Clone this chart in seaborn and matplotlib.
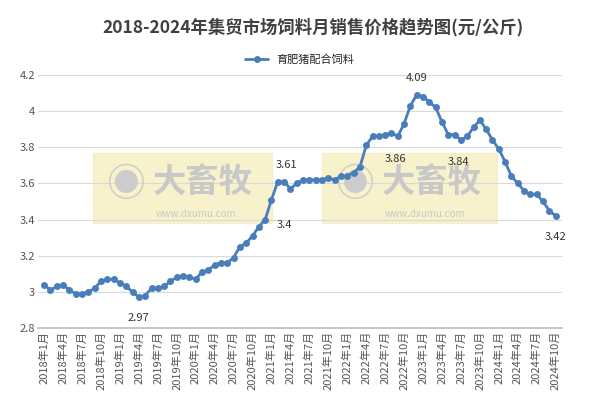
import matplotlib
matplotlib.use("Agg")
import matplotlib.pyplot as plt
import seaborn as sns
import pandas as pd
from matplotlib.patches import Rectangle

sns.set_theme(style="white")
plt.rcParams['font.family'] = ['Noto Sans CJK SC', 'DejaVu Sans']

years = list(range(2018, 2025))
v2018 = [3.04,3.01,3.03,3.04,3.01,2.99,2.99,3.00,3.02,3.06,3.07,3.07]
v2019 = [3.05,3.03,3.00,2.97,2.98,3.02,3.02,3.03,3.06,3.08,3.09,3.08]
v2020 = [3.07,3.11,3.12,3.15,3.16,3.16,3.19,3.25,3.27,3.31,3.36,3.40]
v2021 = [3.51,3.61,3.61,3.57,3.60,3.62,3.62,3.62,3.62,3.63,3.62,3.64]
v2022 = [3.64,3.66,3.69,3.81,3.86,3.86,3.87,3.88,3.86,3.93,4.03,4.09]
v2023 = [4.08,4.05,4.02,3.94,3.87,3.87,3.84,3.86,3.91,3.95,3.90,3.84]
v2024 = [3.79,3.72,3.64,3.60,3.56,3.54,3.54,3.50,3.45,3.42]
values = v2018+v2019+v2020+v2021+v2022+v2023+v2024
labels = [f"{y}年{m}月" for y in years for m in range(1,13)][:len(values)]
annot = {"2019年4月":"2.97","2020年12月":"3.4","2021年2月":"3.61","2022年9月":"3.86",
         "2022年12月":"4.09","2023年7月":"3.84","2024年10月":"3.42"}
annot_off = {"2019年4月":(0,-15),"2020年12月":(14,-4),"2021年2月":(6,12),"2022年9月":(-2,-16),
             "2022年12月":(0,12),"2023年7月":(-2,-16),"2024年10月":(0,-15)}

df = pd.DataFrame({"x": range(len(values)), "v": values, "label": labels})

fig = plt.figure(figsize=(6.01,4.05), dpi=100)
ax = fig.add_axes([0.063, 0.19, 0.872, 0.625])
for xx in [(0.105, 0.447), (0.542, 0.876)]:
    ax.add_patch(Rectangle((xx[0], 0.415), xx[1]-xx[0], 0.275, transform=ax.transAxes,
                           color="#f5efc0", zorder=0, alpha=0.8))
    ax.text(xx[0]+0.025, 0.565, "◉", transform=ax.transAxes, fontsize=28, color="#cccccc", va="center")
    ax.text(xx[0]+0.115, 0.575, "大畜牧", transform=ax.transAxes, fontsize=24, color="#c8c8c8",
            va="center", fontweight="bold")
    ax.text(xx[0]+0.12, 0.44, "www.dxumu.com", transform=ax.transAxes, fontsize=7, color="#c8c8c8")
sns.lineplot(data=df, x="x", y="v", ax=ax, color="#4a7ebb", marker="o", markersize=5,
             markeredgewidth=0, linewidth=2, label="育肥猪配合饲料", zorder=3)
for lab, t in annot.items():
    i = labels.index(lab)
    ax.annotate(t, (i, values[i]), xytext=annot_off[lab], textcoords="offset points",
                ha="center", va="center", fontsize=8, color="#333333")
ax.set_ylim(2.8, 4.2)
ax.set_yticks([2.8,3,3.2,3.4,3.6,3.8,4,4.2])
ax.set_yticklabels(["2.8","3","3.2","3.4","3.6","3.8","4","4.2"], fontsize=8, color="#555555")
ax.set_xlim(-1.0, len(values))
ticks = list(range(0, len(values), 3))
ax.set_xticks(ticks)
ax.set_xticklabels([labels[i] for i in ticks], rotation=90, fontsize=8, color="#555555")
ax.grid(axis="y", color="#d9d9d9", linewidth=0.8)
for s in ["top","right","left"]:
    ax.spines[s].set_visible(False)
ax.spines["bottom"].set_color("#bfbfbf")
ax.tick_params(axis="both", length=0, pad=2)
ax.set_xlabel(""); ax.set_ylabel("")
ax.legend(loc="lower center", bbox_to_anchor=(0.5, 1.0), frameon=False, fontsize=8)
fig.suptitle("2018-2024年集贸市场饲料月销售价格趋势图(元/公斤)", fontsize=12.5, fontweight="bold",
             color="#404040", y=0.955, x=0.52)
fig.savefig("out.png", dpi=100)
